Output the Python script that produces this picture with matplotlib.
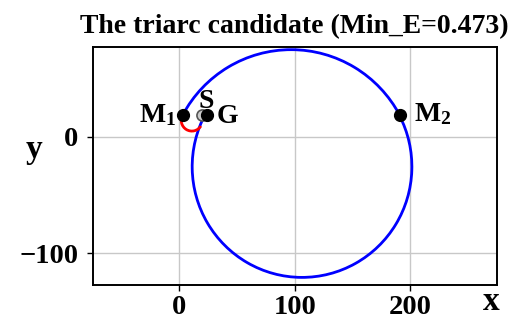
import matplotlib
matplotlib.use('Agg')
import matplotlib.pyplot as plt
from matplotlib.patches import Arc

plt.rcParams['font.family'] = 'serif'
plt.rcParams['font.serif'] = ['Liberation Serif', 'DejaVu Serif']
plt.rcParams['font.weight'] = 'bold'
plt.rcParams['axes.labelweight'] = 'bold'
plt.rcParams['axes.titleweight'] = 'bold'
plt.rcParams['mathtext.fontset'] = 'custom'
plt.rcParams['mathtext.rm'] = 'Liberation Serif:bold'
plt.rcParams['mathtext.bf'] = 'Liberation Serif:bold'
plt.rcParams['mathtext.it'] = 'Liberation Serif:bold'

# triarc: three circle arcs (center x, center y, radius, start angle, end angle in degrees)
arc_cx = [97.0, 106.4, 11.1]
arc_cy = [-31.8, -25.7, 14.0]
arc_r = [106.5, 95.0, 9.15]
arc_theta1 = [28.2, 151.6, 150.0]
arc_theta2 = [151.7, 27.6, 328.5]
arc_colors = ['blue', 'blue', 'red']

# marked points
pt_names = ['M1', 'M2', 'S', 'G']
pt_x = [3.2, 191.0, 19.5, 24.4]
pt_y = [18.6, 18.6, 18.6, 18.6]
pt_labels = [r'$\mathbf{M_1}$', r'$\mathbf{M_2}$', 'S', 'G']

min_e = 0.473

fig = plt.figure(figsize=(5.24, 3.22), dpi=100)
ax = fig.add_axes([0.177, 0.115, 0.771, 0.738])

for cx, cy, r, t1, t2, c in zip(arc_cx, arc_cy, arc_r, arc_theta1, arc_theta2, arc_colors):
    ax.add_patch(Arc((cx, cy), 2 * r, 2 * r, theta1=t1, theta2=t2, color=c, lw=2.0, zorder=3))

# S is drawn grey behind G
ax.plot(pt_x[2], pt_y[2], 'o', ms=8, mfc='#cccccc', mec='#555555', mew=1.2, zorder=4)
for i in [0, 1, 3]:
    ax.plot(pt_x[i], pt_y[i], 'o', color='black', ms=8.5, zorder=5)

fs = 20
ax.annotate(pt_labels[0], (pt_x[0], pt_y[0]), xytext=(-5, -5), textcoords='offset points',
            ha='right', va='baseline', fontsize=fs)
ax.annotate(pt_labels[1], (pt_x[1], pt_y[1]), xytext=(10, -4), textcoords='offset points',
            ha='left', va='baseline', fontsize=fs)
ax.annotate(pt_labels[2], (pt_x[2], pt_y[2]), xytext=(3, 5), textcoords='offset points',
            ha='center', va='baseline', fontsize=fs)
ax.annotate(pt_labels[3], (pt_x[3], pt_y[3]), xytext=(6.5, -5.5), textcoords='offset points',
            ha='left', va='baseline', fontsize=fs)

ax.set_xlim(-74.6, 274.8)
ax.set_ylim(-127.2, 76.7)
ax.set_xticks([0, 100, 200])
ax.set_yticks([-100, 0])
ax.tick_params(labelsize=20.5, length=4.5, width=1)
ax.tick_params(axis='x', pad=2.5)
ax.tick_params(axis='y', pad=6)
ax.grid(True, color='#c8c8c8', lw=1)
ax.set_axisbelow(True)
for s in ax.spines.values():
    s.set_linewidth(1.4)

ax.set_title(f'The triarc candidate (Min_E={min_e})', fontsize=20, pad=10)
ax.set_xlabel('x', fontsize=24, ha='right', va='baseline')
ax.xaxis.set_label_coords(1.007, -0.105)
ax.set_ylabel('y', fontsize=24, rotation=0, ha='center', va='baseline')
ax.yaxis.set_label_coords(-0.145, 0.534)

fig.savefig('out.png', dpi=100)
